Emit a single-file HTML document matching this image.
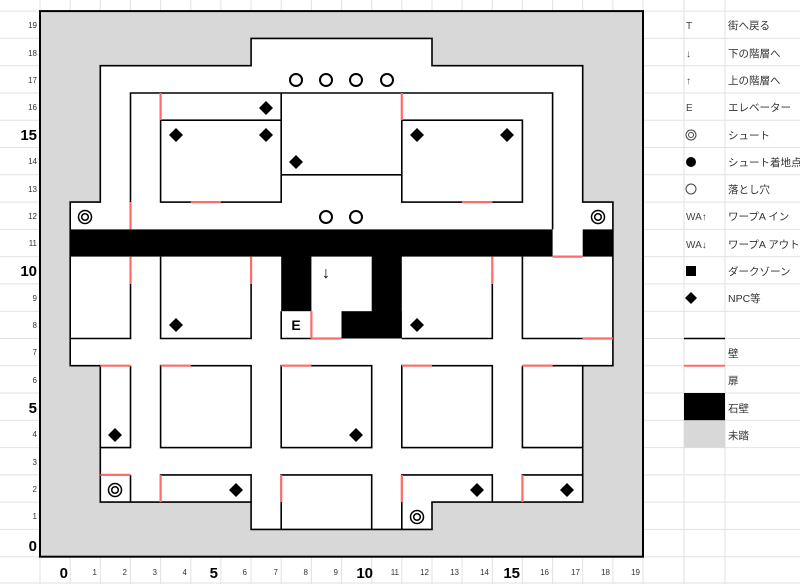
<!DOCTYPE html>
<html><head><meta charset="utf-8"><style>
html,body{margin:0;padding:0;background:#fff;}
svg{display:block;font-family:"Liberation Sans","Noto Sans CJK JP",sans-serif;}
</style></head><body>
<svg width="800" height="584" viewBox="0 0 800 584" xmlns="http://www.w3.org/2000/svg">
<g stroke="#e2e2e2" stroke-width="1">
<line x1="0" y1="11.1" x2="800" y2="11.1"/><line x1="0" y1="38.4" x2="800" y2="38.4"/><line x1="0" y1="65.7" x2="800" y2="65.7"/><line x1="0" y1="93" x2="800" y2="93"/><line x1="0" y1="120.2" x2="800" y2="120.2"/><line x1="0" y1="147.5" x2="800" y2="147.5"/><line x1="0" y1="174.8" x2="800" y2="174.8"/><line x1="0" y1="202.1" x2="800" y2="202.1"/><line x1="0" y1="229.4" x2="800" y2="229.4"/><line x1="0" y1="256.6" x2="800" y2="256.6"/><line x1="0" y1="283.9" x2="800" y2="283.9"/><line x1="0" y1="311.2" x2="800" y2="311.2"/><line x1="0" y1="338.5" x2="800" y2="338.5"/><line x1="0" y1="365.7" x2="800" y2="365.7"/><line x1="0" y1="393" x2="800" y2="393"/><line x1="0" y1="420.3" x2="800" y2="420.3"/><line x1="0" y1="447.6" x2="800" y2="447.6"/><line x1="0" y1="474.9" x2="800" y2="474.9"/><line x1="0" y1="502.1" x2="800" y2="502.1"/><line x1="0" y1="529.4" x2="800" y2="529.4"/><line x1="0" y1="556.7" x2="800" y2="556.7"/><line x1="0" y1="583" x2="800" y2="583"/>
<line x1="40" y1="0" x2="40" y2="584"/><line x1="70.2" y1="0" x2="70.2" y2="584"/><line x1="100.3" y1="0" x2="100.3" y2="584"/><line x1="130.5" y1="0" x2="130.5" y2="584"/><line x1="160.6" y1="0" x2="160.6" y2="584"/><line x1="190.8" y1="0" x2="190.8" y2="584"/><line x1="220.9" y1="0" x2="220.9" y2="584"/><line x1="251.1" y1="0" x2="251.1" y2="584"/><line x1="281.2" y1="0" x2="281.2" y2="584"/><line x1="311.4" y1="0" x2="311.4" y2="584"/><line x1="341.5" y1="0" x2="341.5" y2="584"/><line x1="371.7" y1="0" x2="371.7" y2="584"/><line x1="401.8" y1="0" x2="401.8" y2="584"/><line x1="432" y1="0" x2="432" y2="584"/><line x1="462.1" y1="0" x2="462.1" y2="584"/><line x1="492.3" y1="0" x2="492.3" y2="584"/><line x1="522.4" y1="0" x2="522.4" y2="584"/><line x1="552.6" y1="0" x2="552.6" y2="584"/><line x1="582.7" y1="0" x2="582.7" y2="584"/><line x1="612.9" y1="0" x2="612.9" y2="584"/><line x1="643" y1="0" x2="643" y2="584"/><line x1="684" y1="0" x2="684" y2="584"/><line x1="725" y1="0" x2="725" y2="584"/>
</g>
<rect x="40" y="11.1" width="603" height="545.6" fill="#d8d8d8" stroke="#000" stroke-width="2"/>
<polygon points="70.2,202.1 100.3,202.1 100.3,65.7 251.1,65.7 251.1,38.4 432,38.4 432,65.7 582.7,65.7 582.7,202.1 612.9,202.1 612.9,365.7 582.7,365.7 582.7,502.1 432,502.1 432,529.4 251.1,529.4 251.1,502.1 100.3,502.1 100.3,365.7 70.2,365.7" fill="#fff" stroke="#000" stroke-width="1.6"/>
<g fill="#000">
<rect x="70.2" y="229.4" width="482.4" height="27.2"/>
<rect x="582.7" y="229.4" width="30.2" height="27.2"/>
<rect x="281.2" y="256" width="30.2" height="55.2"/>
<rect x="371.7" y="256" width="30.1" height="82.5"/>
<rect x="341.5" y="311.2" width="60.3" height="27.3"/>
</g>
<g stroke="#000" stroke-width="1.6" fill="none">
<polyline points="130.5,202.1 130.5,93 552.6,93 552.6,229.4"/>
<rect x="160.6" y="120.2" width="120.6" height="81.9"/>
<line x1="281.2" y1="93" x2="281.2" y2="120.2"/>
<line x1="281.2" y1="174.8" x2="401.8" y2="174.8"/>
<rect x="401.8" y="120.2" width="120.6" height="81.9"/>
<polyline points="70.2,338.5 130.5,338.5 130.5,283.9"/>
<polyline points="160.6,256.6 160.6,338.5 251.1,338.5 251.1,283.9"/>
<polyline points="281.2,311.2 281.2,338.5 311.4,338.5"/>
<polyline points="401.8,338.5 492.3,338.5 492.3,283.9"/>
<polyline points="522.4,256.6 522.4,338.5 582.7,338.5"/>
<polyline points="130.5,365.7 130.5,447.6 100.3,447.6"/>
<rect x="160.6" y="365.7" width="90.5" height="81.9"/>
<rect x="281.2" y="365.7" width="90.5" height="81.9"/>
<rect x="401.8" y="365.7" width="90.5" height="81.9"/>
<polyline points="522.4,365.7 522.4,447.6 582.7,447.6"/>
<line x1="522.4" y1="365.7" x2="582.7" y2="365.7"/>
<line x1="130.5" y1="474.9" x2="130.5" y2="502.1"/>
<polyline points="160.6,502.1 160.6,474.9 251.1,474.9 251.1,502.1"/>
<polyline points="281.2,529.4 281.2,474.9 371.7,474.9 371.7,529.4"/>
<polyline points="401.8,529.4 401.8,474.9 492.3,474.9 492.3,502.1"/>
<polyline points="522.4,502.1 522.4,474.9 582.7,474.9"/>
</g>
<g stroke="#ff6b6b" stroke-width="2.2">
<line x1="130.5" y1="202.1" x2="130.5" y2="229.4"/>
<line x1="160.6" y1="93" x2="160.6" y2="120.2"/>
<line x1="190.8" y1="202.1" x2="220.9" y2="202.1"/>
<line x1="401.8" y1="93" x2="401.8" y2="120.2"/>
<line x1="462.1" y1="202.1" x2="492.3" y2="202.1"/>
<line x1="552.6" y1="256.6" x2="582.7" y2="256.6"/>
<line x1="130.5" y1="256.6" x2="130.5" y2="283.9"/>
<line x1="251.1" y1="256.6" x2="251.1" y2="283.9"/>
<line x1="492.3" y1="256.6" x2="492.3" y2="283.9"/>
<line x1="311.4" y1="311.2" x2="311.4" y2="338.5"/>
<line x1="311.4" y1="338.5" x2="341.5" y2="338.5"/>
<line x1="582.7" y1="338.5" x2="612.9" y2="338.5"/>
<line x1="100.3" y1="365.7" x2="130.5" y2="365.7"/>
<line x1="160.6" y1="365.7" x2="190.8" y2="365.7"/>
<line x1="281.2" y1="365.7" x2="311.4" y2="365.7"/>
<line x1="401.8" y1="365.7" x2="432" y2="365.7"/>
<line x1="522.4" y1="365.7" x2="552.6" y2="365.7"/>
<line x1="100.3" y1="474.9" x2="130.5" y2="474.9"/>
<line x1="160.6" y1="474.9" x2="160.6" y2="502.1"/>
<line x1="281.2" y1="474.9" x2="281.2" y2="502.1"/>
<line x1="401.8" y1="474.9" x2="401.8" y2="502.1"/>
<line x1="522.4" y1="474.9" x2="522.4" y2="502.1"/>
</g>
<g fill="none" stroke="#000" stroke-width="2">
<circle cx="296" cy="80" r="6"/><circle cx="326" cy="80" r="6"/><circle cx="356" cy="80" r="6"/><circle cx="387" cy="80" r="6"/>
<circle cx="326" cy="217" r="6"/><circle cx="356" cy="217" r="6"/>
</g>
<g fill="none" stroke="#000" stroke-width="1.5">
<circle cx="85" cy="217" r="6.5"/><circle cx="85" cy="217" r="3.3"/>
<circle cx="598" cy="217" r="6.5"/><circle cx="598" cy="217" r="3.3"/>
<circle cx="115" cy="490" r="6.5"/><circle cx="115" cy="490" r="3.3"/>
<circle cx="417" cy="517" r="6.5"/><circle cx="417" cy="517" r="3.3"/>
</g>
<g fill="#000">
<polygon points="266,101 273,108 266,115 259,108"/>
<polygon points="176,128 183,135 176,142 169,135"/>
<polygon points="266,128 273,135 266,142 259,135"/>
<polygon points="296,155 303,162 296,169 289,162"/>
<polygon points="417,128 424,135 417,142 410,135"/>
<polygon points="507,128 514,135 507,142 500,135"/>
<polygon points="176,318 183,325 176,332 169,325"/>
<polygon points="417,318 424,325 417,332 410,325"/>
<polygon points="115,428 122,435 115,442 108,435"/>
<polygon points="356,428 363,435 356,442 349,435"/>
<polygon points="236,483 243,490 236,497 229,490"/>
<polygon points="477,483 484,490 477,497 470,490"/>
<polygon points="567,483 574,490 567,497 560,490"/>
</g>
<text x="296" y="330" font-size="14" font-weight="bold" text-anchor="middle">E</text>
<text x="326" y="278" font-size="16" text-anchor="middle">↓</text>
<g font-size="8" fill="#333" text-anchor="end">
<text x="37" y="28">19</text><text x="37" y="56">18</text><text x="37" y="83">17</text><text x="37" y="110">16</text>
<text x="37" y="164">14</text><text x="37" y="192">13</text><text x="37" y="219">12</text><text x="37" y="246">11</text>
<text x="37" y="301">9</text><text x="37" y="328">8</text><text x="37" y="355">7</text><text x="37" y="383">6</text>
<text x="37" y="437">4</text><text x="37" y="465">3</text><text x="37" y="492">2</text><text x="37" y="519">1</text>
</g>
<g font-size="15" font-weight="bold" fill="#000" text-anchor="end">
<text x="37" y="140">15</text><text x="37" y="276">10</text><text x="37" y="413">5</text><text x="37" y="551">0</text>
</g>
<g font-size="8" fill="#333" text-anchor="end">
<text x="97" y="575">1</text><text x="127" y="575">2</text><text x="157" y="575">3</text><text x="187" y="575">4</text>
<text x="247" y="575">6</text><text x="278" y="575">7</text><text x="308" y="575">8</text><text x="338" y="575">9</text>
<text x="399" y="575">11</text><text x="429" y="575">12</text><text x="459" y="575">13</text><text x="489" y="575">14</text>
<text x="549" y="575">16</text><text x="580" y="575">17</text><text x="610" y="575">18</text><text x="640" y="575">19</text>
</g>
<g font-size="15" font-weight="bold" fill="#000" text-anchor="end">
<text x="68" y="578">0</text><text x="218" y="578">5</text><text x="373" y="578">10</text><text x="520" y="578">15</text>
</g>
<g font-size="10" fill="#444">
<text x="686" y="29">T</text><text x="686" y="57">↓</text><text x="686" y="84">↑</text><text x="686" y="111">E</text>
<text x="686" y="220">WA↑</text><text x="686" y="248">WA↓</text>
</g>
<g fill="none" stroke="#444" stroke-width="1">
<circle cx="691" cy="135" r="5"/><circle cx="691" cy="135" r="2.5"/>
<circle cx="691" cy="189" r="5"/>
</g>
<g fill="#000">
<circle cx="691" cy="162" r="5"/>
<rect x="686" y="266" width="10" height="10"/>
<polygon points="691,292 697,298 691,304 685,298"/>
</g>
<g font-size="10.5" fill="#333">
<text x="728" y="29">街へ戻る</text><text x="728" y="57">下の階層へ</text><text x="728" y="84">上の階層へ</text><text x="728" y="111">エレベーター</text>
<text x="728" y="139">シュート</text><text x="728" y="166">シュート着地点</text><text x="728" y="193">落とし穴</text>
<text x="728" y="220">ワープA イン</text><text x="728" y="248">ワープA アウト</text><text x="728" y="275">ダークゾーン</text><text x="728" y="302">NPC等</text>
<text x="728" y="357">壁</text><text x="728" y="384">扉</text><text x="728" y="412">石壁</text><text x="728" y="439">未踏</text>
</g>
<line x1="684" y1="338.5" x2="725" y2="338.5" stroke="#000" stroke-width="1.5"/>
<line x1="684" y1="365.7" x2="725" y2="365.7" stroke="#ff6b6b" stroke-width="2"/>
<rect x="684" y="393" width="41" height="27.3" fill="#000"/>
<rect x="684" y="420.3" width="41" height="27.3" fill="#d8d8d8"/>
</svg>
</body></html>
